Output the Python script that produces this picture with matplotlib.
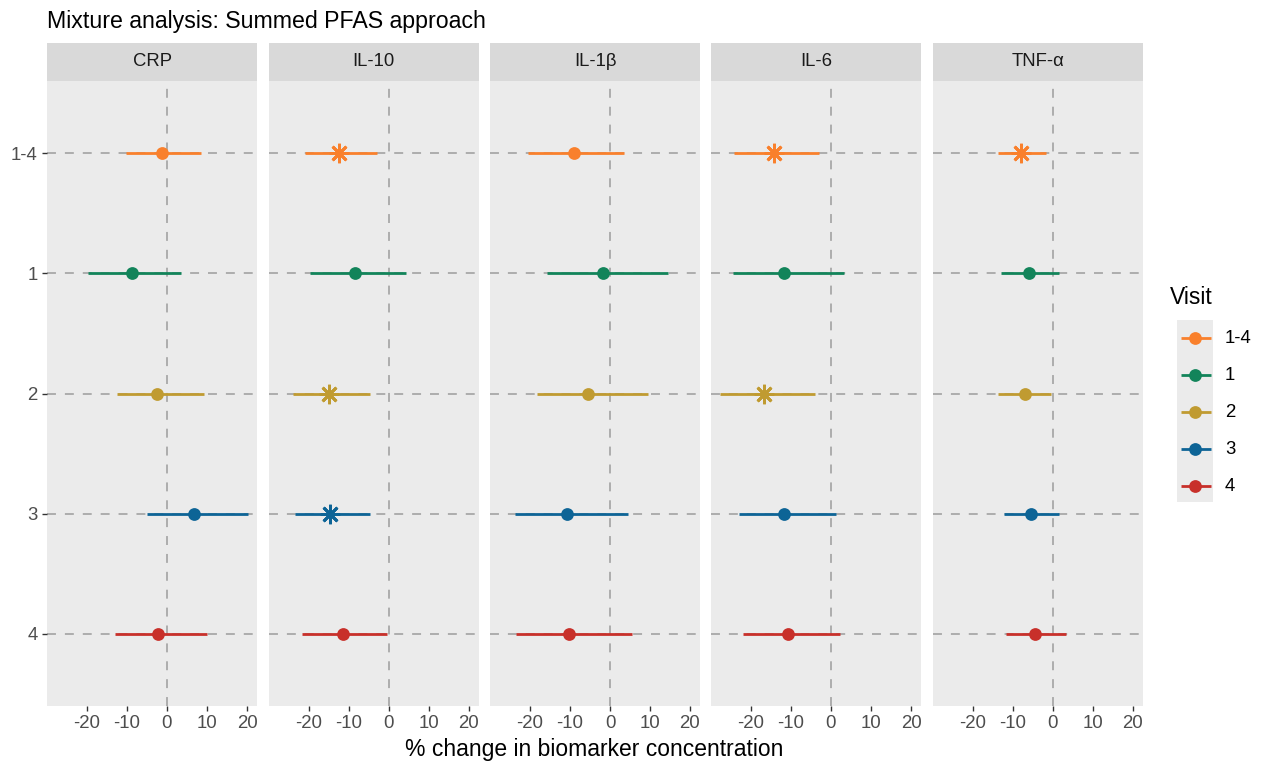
import matplotlib
matplotlib.use("Agg")
import matplotlib.pyplot as plt

plt.rcParams['font.family'] = ['Liberation Sans', 'DejaVu Sans']

# ---- data ----
biomarkers = ['CRP', 'IL-10', 'IL-1β', 'IL-6', 'TNF-α']
visits = ['1-4', '1', '2', '3', '4']
visit_colors = ['#F9802C', '#12845A', '#C09B31', '#0D6496', '#C8302A']

crp_est = [-1.25, -8.75, -2.4, 6.8, -2.2]
crp_lo = [-10.25, -19.7, -12.6, -4.9, -12.9]
crp_hi = [8.4, 3.6, 9.25, 20.25, 9.9]
crp_sig = [0, 0, 0, 0, 0]

il10_est = [-12.3, -8.3, -14.9, -14.7, -11.3]
il10_lo = [-20.8, -19.6, -23.9, -23.5, -21.6]
il10_hi = [-2.8, 4.4, -4.7, -4.6, -0.3]
il10_sig = [1, 0, 1, 1, 0]

il1b_est = [-9.1, -1.8, -5.4, -10.75, -10.25]
il1b_lo = [-20.4, -15.8, -18.3, -23.8, -23.6]
il1b_hi = [3.6, 14.4, 9.6, 4.4, 5.6]
il1b_sig = [0, 0, 0, 0, 0]

il6_est = [-14.3, -11.8, -16.7, -11.7, -10.75]
il6_lo = [-24.2, -24.6, -27.7, -22.9, -22.1]
il6_hi = [-2.9, 3.25, -3.9, 1.3, 2.3]
il6_sig = [1, 0, 1, 0, 0]

tnf_est = [-7.9, -5.9, -7.0, -5.5, -4.5]
tnf_lo = [-13.6, -12.9, -13.7, -12.1, -11.6]
tnf_hi = [-1.7, 1.6, -0.4, 1.7, 3.25]
tnf_sig = [1, 0, 0, 0, 0]

x_ticks = [-20, -10, 0, 10, 20]

table = {
    'CRP': (crp_est, crp_lo, crp_hi, crp_sig),
    'IL-10': (il10_est, il10_lo, il10_hi, il10_sig),
    'IL-1β': (il1b_est, il1b_lo, il1b_hi, il1b_sig),
    'IL-6': (il6_est, il6_lo, il6_hi, il6_sig),
    'TNF-α': (tnf_est, tnf_lo, tnf_hi, tnf_sig),
}

# ---- layout ----
W, H = 1268, 764
fig = plt.figure(figsize=(W / 100, H / 100), dpi=100)
fig.patch.set_facecolor('white')

def fx(px):
    return px / W

def fy(py):
    return 1 - py / H

panel_lefts = [47, 268.5, 490, 711, 932.5]
panel_w = 210
panel_top, panel_bot = 81, 706
strip_top = 43

grid_col = '#ADADAD'
tick_col = '#333333'
label_col = '#4D4D4D'

for k, name in enumerate(biomarkers):
    L = panel_lefts[k]
    ax = fig.add_axes([fx(L), fy(panel_bot), fx(panel_w), (panel_bot - panel_top) / H])
    ax.set_facecolor('#EBEBEB')
    for s in ax.spines.values():
        s.set_visible(False)
    est, lo, hi, sig = table[name]
    for i in range(len(visits)):
        ax.axhline(i, color=grid_col, lw=1.4, ls=(0, (4.6, 4.6)), zorder=1)
    ax.axvline(0, color=grid_col, lw=1.4, ls=(0, (4.6, 4.6)), zorder=1)
    for i, v in enumerate(visits):
        c = visit_colors[i]
        ax.plot([lo[i], hi[i]], [i, i], color=c, lw=2.0, solid_capstyle='butt', zorder=3)
        if sig[i]:
            ax.plot([est[i]], [i], marker=(8, 2, 0), ms=14, mew=2.0, color=c,
                    linestyle='none', zorder=4)
        else:
            ax.plot([est[i]], [i], marker='o', ms=9.2, mew=0, color=c,
                    linestyle='none', zorder=4)
    ax.set_xlim(-30, 22.5)
    ax.set_ylim(len(visits) - 0.4, -0.6)
    ax.set_xticks(x_ticks)
    ax.set_xticklabels([str(t) for t in x_ticks])
    ax.tick_params(axis='x', length=3.3, width=1.0, color=tick_col, pad=3,
                   labelsize=13.4, labelcolor=label_col)
    if k == 0:
        ax.set_yticks(range(len(visits)))
        ax.set_yticklabels(visits)
        ax.tick_params(axis='y', length=3.3, width=1.0, color=tick_col, pad=3.5,
                       labelsize=13.4, labelcolor=label_col)
    else:
        ax.set_yticks([])
    # strip
    sax = fig.add_axes([fx(L), fy(panel_top), fx(panel_w), (panel_top - strip_top) / H])
    sax.set_facecolor('#D9D9D9')
    for s in sax.spines.values():
        s.set_visible(False)
    sax.set_xticks([])
    sax.set_yticks([])
    sax.text(0.5, 0.5, name, ha='center', va='center', fontsize=13.3,
             color='#1A1A1A', transform=sax.transAxes)

fig.text(fx(47), fy(28), 'Mixture analysis: Summed PFAS approach', ha='left',
         va='baseline', fontsize=16.7, color='black')
fig.text(fx(594.5), fy(756), '% change in biomarker concentration', ha='center',
         va='baseline', fontsize=16.5, color='black')

# ---- legend ----
fig.text(fx(1170), fy(298), 'Visit', ha='left', va='center', fontsize=16.5, color='black')
lax = fig.add_axes([fx(1177), fy(502), fx(36), 182 / H])
lax.set_facecolor('#EBEBEB')
for s in lax.spines.values():
    s.set_visible(False)
lax.set_xticks([])
lax.set_yticks([])
lax.set_xlim(0, 36)
lax.set_ylim(4.43, -0.49)
for i, v in enumerate(visits):
    c = visit_colors[i]
    lax.plot([4, 33.7], [i, i], color=c, lw=2.0, solid_capstyle='butt')
    lax.plot([18], [i], marker='o', ms=9.2, mew=0, color=c, linestyle='none')
    lax.text(48, i, v, ha='left', va='center', fontsize=13.4, color='black',
             transform=lax.transData, clip_on=False)

fig.savefig('out.png', dpi=100, facecolor='white')
